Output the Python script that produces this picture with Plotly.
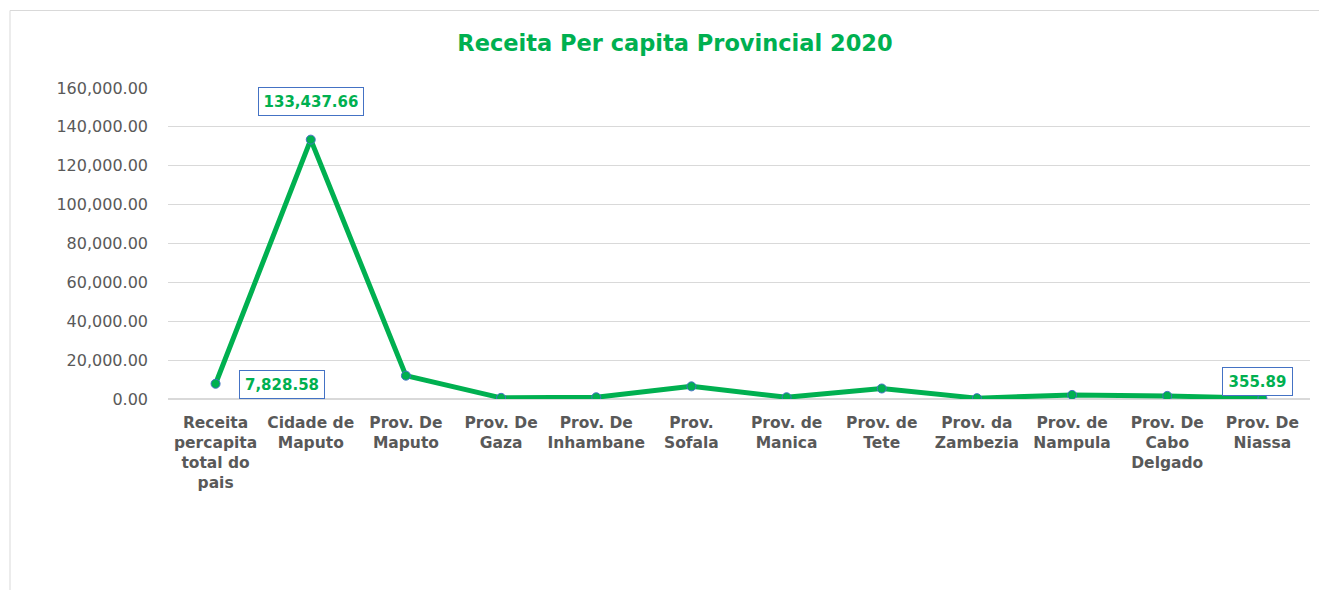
import plotly.graph_objects as go

categories = [
    "Receita<br>percapita<br>total do<br>pais",
    "Cidade de<br>Maputo",
    "Prov. De<br>Maputo",
    "Prov. De<br>Gaza",
    "Prov. De<br>Inhambane",
    "Prov.<br>Sofala",
    "Prov. de<br>Manica",
    "Prov. de<br>Tete",
    "Prov. da<br>Zambezia",
    "Prov. de<br>Nampula",
    "Prov. De<br>Cabo<br>Delgado",
    "Prov. De<br>Niassa",
]
values = [7828.58, 133437.66, 12000, 600, 900, 6500, 900, 5400, 450, 2100, 1600, 355.89]
y_ticks = [0, 20000, 40000, 60000, 80000, 100000, 120000, 140000, 160000]

GREEN = "#00B050"
BLUE = "#4472C4"
GRAY = "#595959"
FONT = "DejaVu Sans"

# plot area in figure pixels (page is offset by 8px body margin)
L, R, T, B = 160, 1302, 80, 391
W, H = 1327, 590

fig = go.Figure()
fig.add_trace(go.Scatter(
    x=categories, y=values, mode="lines+markers",
    line=dict(color=GREEN, width=5),
    marker=dict(size=9, color=GREEN, line=dict(color=BLUE, width=1)),
    hoverinfo="skip", showlegend=False,
))

# (index, xshift, yshift, box width)
label_specs = [(0, 66, -1, 74), (1, 0, 38, 94), (11, -5, 17, 59)]
for idx, xs, ys, bw in label_specs:
    fig.add_annotation(
        x=categories[idx], y=values[idx], text=f"<b>{values[idx]:,.2f}</b>",
        showarrow=False, xshift=xs, yshift=ys, width=bw, height=17,
        font=dict(family=FONT, size=15, color=GREEN),
        bgcolor="white", bordercolor=BLUE, borderwidth=1, borderpad=5,
    )

fig.update_layout(
    width=W, height=H,
    margin=dict(l=L, r=W - R, t=T, b=H - B),
    paper_bgcolor="white", plot_bgcolor="white",
    title=dict(text="<b>Receita Per capita Provincial 2020</b>", x=667 / W, xanchor="center",
               y=1 - 35 / H, yanchor="middle",
               font=dict(family=FONT, size=22.5, color=GREEN)),
    font=dict(family=FONT, color=GRAY),
    shapes=[dict(type="rect", xref="paper", yref="paper",
                 x0=(2 - L) / (R - L), x1=(1345 - L) / (R - L),
                 y0=(B - 620) / (B - T), y1=(B - 2.5) / (B - T),
                 line=dict(color="#D9D9D9", width=1), layer="below")],
)
fig.update_xaxes(
    type="category", range=[-0.5, len(categories) - 0.5],
    showgrid=False, showline=False, ticks="", ticklabelstandoff=12,
    tickfont=dict(family=FONT, size=15.5, color=GRAY, weight="bold"),
)
fig.update_yaxes(
    range=[0, 160000], tickvals=y_ticks, tickformat=",.2f",
    showgrid=True, gridcolor="#D9D9D9", gridwidth=1, zeroline=True, zerolinecolor="#D9D9D9",
    showline=False, ticks="", ticklabelstandoff=19,
    tickfont=dict(family=FONT, size=16, color=GRAY),
)

fig.write_html("out.html")
